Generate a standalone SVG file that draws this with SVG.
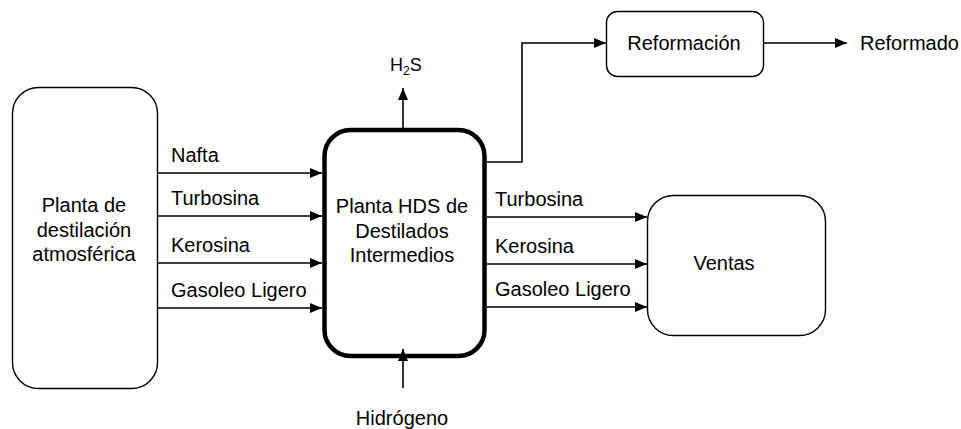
<svg xmlns="http://www.w3.org/2000/svg" width="961" height="429" viewBox="0 0 961 429">
  <style>
    text { font-family: "Liberation Sans", Arial, sans-serif; font-size: 20px; fill: #000; }
    .mid { text-anchor: middle; }
    .box { fill: #fff; stroke: #000; stroke-width: 1.4; }
    .box-main { fill: #fff; stroke: #000; stroke-width: 4.5; }
    .flow { fill: none; stroke: #000; stroke-width: 1.6; }
  </style>
  <defs>
    <marker id="arrow" viewBox="0 0 12 10" refX="12" refY="5" markerWidth="12" markerHeight="10" markerUnits="userSpaceOnUse" orient="auto">
      <path d="M0,0 L12,5 L0,10 Z" fill="#000"/>
    </marker>
  </defs>
  <rect width="961" height="429" fill="#fff"/>

  <!-- Atmospheric distillation unit -->
  <g id="destilacion">
    <rect class="box" x="12.5" y="87.5" width="145" height="301" rx="26"/>
    <text class="mid" x="84" y="212">Planta de</text>
    <text class="mid" x="84" y="237">destilación</text>
    <text class="mid" x="84" y="261">atmosférica</text>
  </g>

  <!-- Middle distillates HDS unit -->
  <g id="hds">
    <rect class="box-main" x="324.5" y="130" width="160" height="226" rx="26"/>
    <text class="mid" x="402" y="213">Planta HDS de</text>
    <text class="mid" x="402" y="238">Destilados</text>
    <text class="mid" x="402" y="262">Intermedios</text>
  </g>

  <!-- Reforming unit -->
  <g id="reformacion">
    <rect class="box" x="606.5" y="11.5" width="157" height="65" rx="11"/>
    <text class="mid" x="684" y="50">Reformación</text>
  </g>

  <!-- Sales -->
  <g id="ventas">
    <rect class="box" x="647.5" y="195.5" width="178" height="140" rx="26"/>
    <text class="mid" x="724" y="270">Ventas</text>
  </g>

  <!-- Streams -->
  <g id="connectors">
    <line class="flow" x1="158" y1="173" x2="322" y2="173" marker-end="url(#arrow)"/>
    <line class="flow" x1="158" y1="216" x2="322" y2="216" marker-end="url(#arrow)"/>
    <line class="flow" x1="158" y1="263" x2="322" y2="263" marker-end="url(#arrow)"/>
    <line class="flow" x1="158" y1="308" x2="322" y2="308" marker-end="url(#arrow)"/>

    <line class="flow" x1="487" y1="217" x2="647" y2="217" marker-end="url(#arrow)"/>
    <line class="flow" x1="487" y1="264" x2="647" y2="264" marker-end="url(#arrow)"/>
    <line class="flow" x1="487" y1="307" x2="647" y2="307" marker-end="url(#arrow)"/>

    <polyline class="flow" points="487,162 522,162 522,43 606,43" marker-end="url(#arrow)"/>
    <line class="flow" x1="764" y1="43" x2="847" y2="43" marker-end="url(#arrow)"/>

    <line class="flow" x1="403" y1="128" x2="403" y2="88" marker-end="url(#arrow)"/>
    <line class="flow" x1="403" y1="388" x2="403" y2="349" marker-end="url(#arrow)"/>
  </g>

  <!-- Stream labels -->
  <g id="labels">
    <text x="171" y="162">Nafta</text>
    <text x="171" y="205">Turbosina</text>
    <text x="171" y="252">Kerosina</text>
    <text x="171" y="297">Gasoleo Ligero</text>
    <text x="495" y="206">Turbosina</text>
    <text x="495" y="253">Kerosina</text>
    <text x="495" y="296">Gasoleo Ligero</text>
    <text x="860" y="50">Reformado</text>
    <text x="390" y="71" style="font-size:18px">H<tspan dy="4" style="font-size:12px">2</tspan><tspan dy="-4">S</tspan></text>
    <text class="mid" x="402" y="425">Hidrógeno</text>
  </g>
</svg>
